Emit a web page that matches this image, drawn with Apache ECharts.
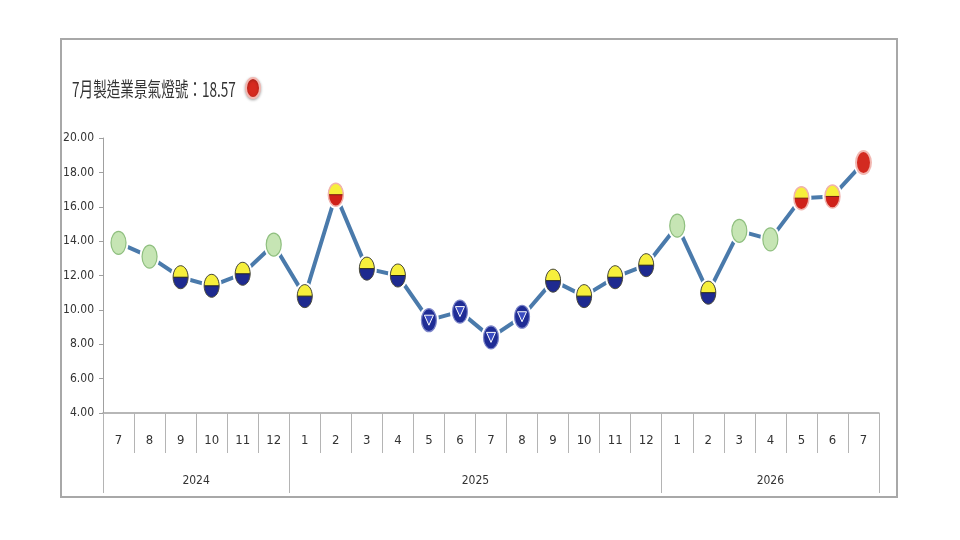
<!DOCTYPE html>
<html><head><meta charset="utf-8">
<script src="https://cdn.jsdelivr.net/npm/echarts@6/dist/echarts.min.js"></script>
<style>html,body{margin:0;padding:0;background:#fff}#c{width:960px;height:540px}</style>
</head><body><div id="c"></div>
<script>
// ---- data ----
const months  = ['7','8','9','10','11','12','1','2','3','4','5','6','7','8','9','10','11','12','1','2','3','4','5','6','7'];
const scores  = [13.9,13.1,11.9,11.4,12.1,13.8,10.8,16.7,12.4,12.0,9.4,9.9,8.4,9.6,11.7,10.8,11.9,12.6,14.9,11.0,14.6,14.1,16.5,16.6,18.57];
const signals = ['G','G','YB','YB','YB','G','YB','YR','YB','YB','B','B','B','B','YB','YB','YB','YB','G','YB','G','G','YR','YR','R'];
const years     = ['2024','2025','2026'];
const yearStart = [0,6,18];
const titleText = '7月製造業景氣燈號：18.57';

// ---- derived ----
const yearBounds = yearStart.concat([months.length]);
const yearMids = years.map((y,i)=> (yearBounds[i]+yearBounds[i+1])/2);

const NARROW = '"Liberation Sans Narrow","DejaVu Sans Condensed","Arial Narrow","Liberation Sans",sans-serif';
const RX = 7.5, RY = 11.5;

function halfEllipse(cx, cy, rx, ry) {
  const pts = [];
  for (let k = 0; k <= 24; k++) {
    const t = Math.PI * k / 24;
    pts.push([cx + rx * Math.cos(t), cy - ry * Math.sin(t)]);
  }
  return pts;
}

function renderMarker(params, api) {
  const p = api.coord([api.value(0), api.value(1)]);
  const cx = p[0], cy = p[1];
  const sig = signals[params.dataIndex];
  const ch = [{type:'ellipse', shape:{cx, cy, rx:RX+2.5, ry:RY+2.5}, style:{fill:'#ffffff'}}];
  if (sig === 'G') {
    ch.push({type:'ellipse', shape:{cx, cy, rx:RX, ry:RY}, style:{fill:'#c6e5b4', stroke:'#8fbf7f', lineWidth:1.2}});
  } else if (sig === 'YB') {
    ch.push({type:'ellipse', shape:{cx, cy, rx:RX, ry:RY}, style:{fill:'#1e2a8f'}});
    ch.push({type:'polygon', shape:{points:halfEllipse(cx, cy, RX, RY)}, style:{fill:'#f6ef3c'}});
    ch.push({type:'line', shape:{x1:cx-RX, y1:cy, x2:cx+RX, y2:cy}, style:{stroke:'#222', lineWidth:1}});
    ch.push({type:'ellipse', shape:{cx, cy, rx:RX, ry:RY}, style:{fill:null, stroke:'#4a4a3a', lineWidth:1}});
  } else if (sig === 'B') {
    ch.push({type:'ellipse', shape:{cx, cy, rx:RX, ry:RY}, style:{fill:'#1f2c95', stroke:'#7d86c9', lineWidth:1.2}});
    ch.push({type:'polygon', shape:{points:[[cx-4.5, cy-5],[cx+4.5, cy-5],[cx, cy+5]]}, style:{fill:'#3b4cc2', stroke:'#ffffff', lineWidth:1}});
  } else if (sig === 'YR') {
    ch.push({type:'ellipse', shape:{cx, cy, rx:RX, ry:RY}, style:{fill:'#cf2119'}});
    ch.push({type:'polygon', shape:{points:halfEllipse(cx, cy, RX, RY)}, style:{fill:'#f7ef3a'}});
    ch.push({type:'line', shape:{x1:cx-RX, y1:cy, x2:cx+RX, y2:cy}, style:{stroke:'#7a1a10', lineWidth:1}});
    ch.push({type:'ellipse', shape:{cx, cy, rx:RX, ry:RY}, style:{fill:null, stroke:'#f0b3ad', lineWidth:1.5}});
  } else {
    ch.push({type:'ellipse', shape:{cx, cy, rx:RX, ry:RY}, style:{fill:'#d32a20', stroke:'#f2b8b2', lineWidth:2}});
  }
  return {type:'group', children: ch};
}

const chart = echarts.init(document.getElementById('c'), null, {renderer:'canvas'});
chart.setOption({
  animation: false,
  backgroundColor: '#ffffff',
  grid: {left:103, right:81, top:138, bottom:127},
  graphic: [
    {type:'rect', shape:{x:61, y:39, width:836, height:458}, style:{fill:null, stroke:'#a8a8a8', lineWidth:2}, z:-1},
    {type:'text', x:72, y:89, scaleX:0.68, style:{text:titleText, font:'20px "Noto Sans CJK TC"', fill:'#333', verticalAlign:'middle'}},
    {type:'ellipse', shape:{cx:253, cy:88, rx:7, ry:10}, style:{fill:'#d62a1f', stroke:'#f3b8b2', lineWidth:2, shadowBlur:3, shadowColor:'rgba(0,0,0,0.3)', shadowOffsetY:1}}
  ],
  xAxis: [
    {
      type:'category', data: months, boundaryGap:true,
      axisLine:{show:true, lineStyle:{color:'#a0a0a0', width:1.5}},
      axisTick:{show:true, interval:0, length:40, lineStyle:{color:'#b4b4b4', width:1}},
      axisLabel:{interval:0, margin:21, fontFamily:NARROW, fontSize:13, color:'#333'},
      splitLine:{show:false}
    },
    {
      type:'value', min:0, max:months.length, position:'bottom',
      axisLine:{show:false},
      axisTick:{show:true, customValues: yearBounds, length:80, lineStyle:{color:'#b4b4b4', width:1}},
      axisLabel:{customValues: yearMids, margin:62, fontFamily:NARROW, fontSize:12, color:'#333',
        formatter: v => { const i = yearMids.indexOf(v); return i >= 0 ? years[i] : ''; }},
      splitLine:{show:false}
    }
  ],
  yAxis: {
    type:'value', min:4, max:20, interval:2,
    axisLine:{show:true, lineStyle:{color:'#a0a0a0', width:1}},
    axisTick:{show:true, length:4, lineStyle:{color:'#a0a0a0'}},
    axisLabel:{margin:9, fontFamily:NARROW, fontSize:12, color:'#333', formatter: v => v.toFixed(2)},
    splitLine:{show:false}
  },
  series: [
    {type:'line', xAxisIndex:0, data: scores, symbol:'none', z:2,
     lineStyle:{color:'#4a7aab', width:4}},
    {type:'custom', xAxisIndex:0, z:3, data: scores.map((v,i)=>[i, v]),
     encode:{x:0, y:1}, renderItem: renderMarker}
  ]
});
</script></body></html>
